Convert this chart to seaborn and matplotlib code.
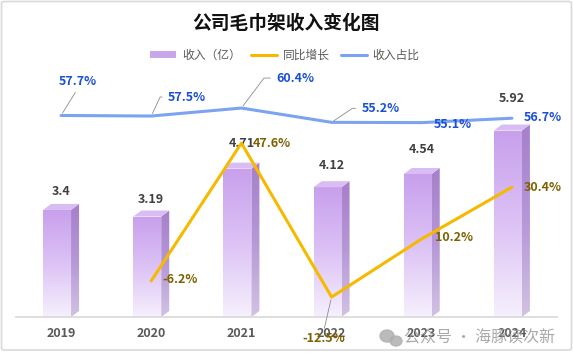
import numpy as np
import pandas as pd
import matplotlib
matplotlib.use('Agg')
import matplotlib.pyplot as plt
import seaborn as sns
from matplotlib.colors import LinearSegmentedColormap
from matplotlib.patches import Polygon, Patch, FancyBboxPatch, Ellipse
from matplotlib.lines import Line2D

# data
years = ['2019', '2020', '2021', '2022', '2023', '2024']
revenue = [3.4, 3.19, 4.71, 4.12, 4.54, 5.92]           # 收入（亿）
growth = [np.nan, -6.2, 47.6, -12.5, 10.2, 30.4]         # 同比增长 %
share = [57.7, 57.5, 60.4, 55.2, 55.1, 56.7]             # 收入占比 %

# label offsets in pixels (dx, dy) relative to the point, and leader line angles
share_off = [(17, 34), (36, 19), (54, 30), (49, 14), (31, -2), (31, 1)]
share_leader = ['straight', 65, 53, 34, None, None]
growth_off = [None, (29, 1), (30, 0), (-8, -41), (32, 1), (31, 0)]

sns.set_theme(style='white')
plt.rcParams['font.family'] = ['Noto Sans CJK SC', 'DejaVu Sans']

W, H = 573, 360
fig = plt.figure(figsize=(W / 100, H / 100), dpi=100)
fig.patch.set_facecolor('white')

# outer border
fig.patches.append(FancyBboxPatch((1.5 / W, 10 / H), 570 / W, 348.5 / H,
                                  boxstyle='round,pad=0,rounding_size=0.005',
                                  transform=fig.transFigure, fill=False,
                                  edgecolor='#d9d9d9', lw=1.2))

ax = fig.add_axes([16 / W, 43 / H, 541 / W, 220.5 / H])
ax2 = ax.twinx()
ax3 = ax.twinx()

df = pd.DataFrame({'year': years, 'revenue': revenue})
sns.barplot(data=df, x='year', y='revenue', ax=ax, width=0.31, color='#c9a1ed',
            saturation=1, zorder=2)

dx, dy = 0.089, 0.19
front_cmap = LinearSegmentedColormap.from_list('front', ['#f6f0fd', '#dcc2f5', '#c89fec'])
side_cmap = LinearSegmentedColormap.from_list('side', ['#d2c2e3', '#b597d6', '#a680ca'])
grad = np.linspace(0, 1, 256).reshape(-1, 1)

for p, v in zip(list(ax.patches), revenue):
    p.set_x(p.get_x() - dx / 2)
    x0 = p.get_x()
    x1 = x0 + p.get_width()
    h = p.get_height()
    p.set_facecolor('none')
    p.set_edgecolor('none')
    im = ax.imshow(grad, extent=[x0, x1, 0, h], origin='lower', aspect='auto',
                   cmap=front_cmap, zorder=2)
    im.set_clip_path(p)
    side = Polygon([(x1, 0), (x1 + dx, dy), (x1 + dx, h + dy), (x1, h)],
                   closed=True, facecolor='none', edgecolor='none')
    ax.add_patch(side)
    im2 = ax.imshow(grad, extent=[x1, x1 + dx, 0, h + dy], origin='lower', aspect='auto',
                    cmap=side_cmap, zorder=2)
    im2.set_clip_path(side)
    top = Polygon([(x0, h), (x0 + dx, h + dy), (x1 + dx, h + dy), (x1, h)],
                  closed=True, facecolor='#d8bcf4', edgecolor='none', zorder=2)
    ax.add_patch(top)
    ax.text((x0 + x1 + dx) / 2, v * 1.17, f'{v:g}', ha='center', va='center',
            fontsize=9, fontweight='bold', color='#404040', zorder=3)

ax.set_xlim(-0.5, 5.5)
ax.set_ylim(0, 7)
ax.set_aspect('auto')
ax.set_xlabel('')
ax.set_ylabel('')
ax.set_yticks([])
for s in ['top', 'right', 'left']:
    ax.spines[s].set_visible(False)
ax.spines['bottom'].set_color('#d9d9d9')
ax.tick_params(axis='x', length=0, pad=7, labelsize=9, labelcolor='#595959')
for t in ax.get_xticklabels():
    t.set_fontweight('bold')

pos = np.arange(len(years))

# growth line
sns.lineplot(x=pos, y=growth, ax=ax2, color='#f7b900', lw=2.2, zorder=4)
ax2.set_ylim(-20.3, 65.8)
for i, (g, off) in enumerate(zip(growth, growth_off)):
    if off is None:
        continue
    arrow = None
    if off[1] < -20:
        arrow = dict(arrowstyle='-', color='#8c8c8c', lw=0.6, shrinkA=0, shrinkB=2,
                     relpos=(0.5, 1))
    ax2.annotate(f'{g:g}%', (pos[i], g), xytext=off, textcoords='offset pixels',
                 ha='center', va='center', fontsize=9, fontweight='bold',
                 color='#7f6000', arrowprops=arrow, zorder=5)

# share line
sns.lineplot(x=pos, y=share, ax=ax3, color='#7ca3f0', lw=2.2, zorder=4)
ax3.set_ylim(-15.6, 64.6)
for i, (s, off, lead) in enumerate(zip(share, share_off, share_leader)):
    arrow = None
    if lead == 'straight':
        arrow = dict(arrowstyle='-', color='#8c8c8c', lw=0.6, shrinkA=1, shrinkB=2,
                     relpos=(0.5, 0))
    elif lead is not None:
        arrow = dict(arrowstyle='-', color='#8c8c8c', lw=0.6, shrinkA=2, shrinkB=2,
                     relpos=(0, 0.5),
                     connectionstyle=f'angle,angleA=0,angleB={lead},rad=0')
    ax3.annotate(f'{s:g}%', (pos[i], s), xytext=off, textcoords='offset pixels',
                 ha='center', va='center', fontsize=9, fontweight='bold',
                 color='#1a4fd6', arrowprops=arrow, zorder=5)

for a in (ax2, ax3):
    a.set_yticks([])
    a.set_ylabel('')
    for s in a.spines.values():
        s.set_visible(False)

# legend
handles = [Patch(facecolor='#c8a6ec', edgecolor='none'),
           Line2D([], [], color='#f7b900', lw=2.2),
           Line2D([], [], color='#7ca3f0', lw=2.2)]
fig.legend(handles, ['收入（亿）', '同比增长', '收入占比'], loc='center',
           bbox_to_anchor=(0.497, 1 - 55 / H), ncol=3, frameon=False, fontsize=8.5,
           handlelength=2.2, handleheight=0.6, columnspacing=0.9, handletextpad=0.5,
           labelcolor='#595959')

fig.text(0.499, 1 - 23 / H, '公司毛巾架收入变化图', ha='center', va='center',
         fontsize=13.5, fontweight='bold', color='#111111')

# watermark
fig.text(480 / W, 1 - 338 / H, '公众号 · 海豚读次新', ha='center', va='center',
         fontsize=11.5, color='#9a9a9a', alpha=0.85, zorder=10)
fig.patches.append(Ellipse((387 / W, 1 - 336 / H), 14 / W, 12 / H,
                           transform=fig.transFigure, color='#b0b0b0', alpha=0.85, zorder=10))
fig.patches.append(Ellipse((396 / W, 1 - 341 / H), 12 / W, 10 / H,
                           transform=fig.transFigure, color='#b0b0b0', alpha=0.85, zorder=10))

fig.savefig('out.png', dpi=100)
